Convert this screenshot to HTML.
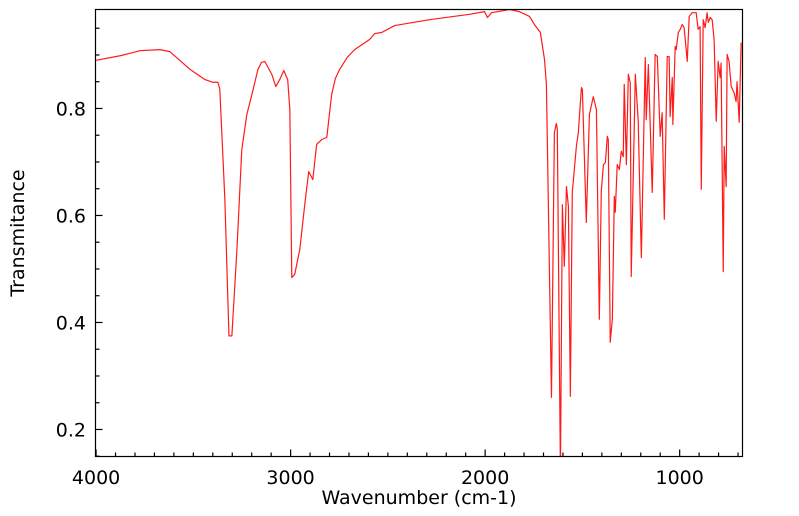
<!DOCTYPE html>
<html><head><meta charset="utf-8"><style>
html,body{margin:0;padding:0;background:#fff;}
svg{display:block;font-family:"DejaVu Sans","Liberation Sans",sans-serif;}
</style></head><body>
<svg id="chart" width="799" height="516" viewBox="0 0 799 516" xmlns="http://www.w3.org/2000/svg">
<g id="xticks"></g>
<g id="yticks"></g>
<path id="spectrum" fill="none" stroke="#ff1a1a" stroke-width="1.2" stroke-linejoin="round"/>
<rect x="95.5" y="9.5" width="647" height="447" fill="none" stroke="#000" stroke-width="1.2"/>
<text x="419" y="504" font-size="19" text-anchor="middle">Wavenumber (cm-1)</text>
<text transform="translate(24,233) rotate(-90)" font-size="19" text-anchor="middle">Transmitance</text>
</svg>
<script>
const wavenumbers=[4000,3870,3774,3671,3620,3570,3517,3440,3400,3374,3364,3338,3317,3302,3276,3251,3225,3199,3168,3150,3133,3097,3076,3056,3035,3015,3004,2994,2979,2953,2927,2907,2886,2866,2840,2814,2789,2770,2748,2710,2671,2594,2568,2532,2465,2286,2080,2003,1988,1967,1875,1824,1772,1747,1716,1695,1685,1659,1644,1634,1629,1613,1603,1593,1582,1572,1562,1552,1531,1521,1505,1500,1480,1464,1444,1428,1413,1403,1392,1382,1372,1367,1357,1346,1336,1331,1321,1310,1300,1290,1285,1274,1264,1254,1249,1228,1213,1197,1177,1172,1161,1141,1126,1115,1100,1090,1079,1064,1054,1049,1038,1035,1023,1018,1007,997,987,977,961,951,936,915,905,895,889,879,869,859,853,843,833,823,812,802,792,787,776,771,761,756,746,735,720,710,705,694,684];
const transmittance=[0.890,0.899,0.908,0.910,0.906,0.890,0.873,0.854,0.849,0.849,0.836,0.630,0.375,0.375,0.536,0.723,0.789,0.826,0.873,0.886,0.888,0.864,0.841,0.854,0.871,0.854,0.798,0.484,0.490,0.536,0.621,0.682,0.667,0.733,0.742,0.746,0.826,0.856,0.873,0.895,0.910,0.929,0.940,0.942,0.955,0.966,0.976,0.981,0.970,0.979,0.985,0.981,0.972,0.957,0.942,0.892,0.845,0.260,0.755,0.772,0.761,0.120,0.620,0.505,0.654,0.617,0.262,0.643,0.729,0.755,0.839,0.835,0.587,0.789,0.822,0.798,0.406,0.645,0.695,0.699,0.748,0.742,0.363,0.406,0.636,0.606,0.695,0.686,0.720,0.710,0.845,0.695,0.864,0.848,0.486,0.864,0.776,0.521,0.895,0.779,0.882,0.643,0.901,0.897,0.748,0.792,0.593,0.897,0.897,0.785,0.858,0.770,0.916,0.910,0.942,0.948,0.957,0.951,0.888,0.972,0.979,0.979,0.948,0.953,0.649,0.966,0.951,0.979,0.961,0.970,0.966,0.929,0.776,0.888,0.858,0.885,0.495,0.729,0.654,0.901,0.888,0.841,0.829,0.813,0.850,0.774,0.923];
const xTickValues=[4000,3000,2000,1000];
const xTickLabels=["4000","3000","2000","1000"];
const yTickValues=[0.2,0.4,0.6,0.8];
const yTickLabels=["0.2","0.4","0.6","0.8"];

const X0=95.5,X1=742.5,Y0=9.5,Y1=456.5;
const xMin=4003,xMax=677,yMin=0.1495,yMax=0.985;
function sx(v){return X0+(xMin-v)/(xMin-xMax)*(X1-X0);}
function sy(v){return Y1-(v-yMin)/(yMax-yMin)*(Y1-Y0);}
const NS="http://www.w3.org/2000/svg";
function line(g,x1,y1,x2,y2){const l=document.createElementNS(NS,'line');
l.setAttribute('x1',x1);l.setAttribute('y1',y1);l.setAttribute('x2',x2);l.setAttribute('y2',y2);
l.setAttribute('stroke','#000');l.setAttribute('stroke-width','1.2');


g.appendChild(l);}
const xg=document.getElementById('xticks'),yg=document.getElementById('yticks');
for(let v=700;v<=4000;v+=100){const x=sx(v);if(x<X0||x>X1)continue;const major=v%1000===0;line(xg,x,Y1,x,Y1-(major?7:4));}
xTickValues.forEach((v,i)=>{const t=document.createElementNS(NS,'text');
t.setAttribute('x',sx(v));t.setAttribute('y',484);t.setAttribute('font-size','19');t.setAttribute('text-anchor','middle');
t.textContent=xTickLabels[i];


xg.appendChild(t);});
for(let k=3;k<=19;k++){const v=k*0.05;const y=sy(v);if(y<Y0||y>Y1)continue;const major=k%4===0;line(yg,X0,y,X0+(major?7:4),y);}
yTickValues.forEach((v,i)=>{const t=document.createElementNS(NS,'text');
t.setAttribute('x',86);t.setAttribute('y',sy(v)+7);t.setAttribute('font-size','19');t.setAttribute('text-anchor','end');
t.textContent=yTickLabels[i];


yg.appendChild(t);});
let d='';
wavenumbers.forEach((w,i)=>{const y=Math.min(sy(transmittance[i]),Y1+20);d+=(i?'L':'M')+sx(w).toFixed(2)+','+y.toFixed(2);});
const p=document.getElementById('spectrum');p.setAttribute('d',d);
const cp=document.createElementNS(NS,'clipPath');cp.setAttribute('id','clip');
const r=document.createElementNS(NS,'rect');r.setAttribute('x',X0);r.setAttribute('y',Y0);r.setAttribute('width',X1-X0);r.setAttribute('height',Y1-Y0);
cp.appendChild(r);document.getElementById('chart').appendChild(cp);
p.setAttribute('clip-path','url(#clip)');
</script>
</body></html>
